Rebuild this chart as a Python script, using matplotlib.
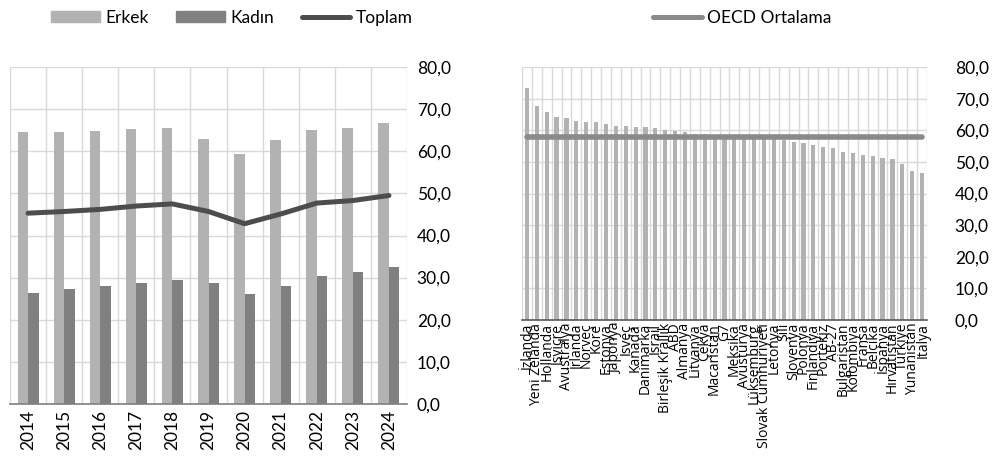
import numpy as np
import matplotlib
matplotlib.use("Agg")
import matplotlib.pyplot as plt
from matplotlib.lines import Line2D
from matplotlib.patches import Patch
from matplotlib.ticker import FuncFormatter, FixedLocator

plt.rcParams['font.family'] = ['Lato', 'DejaVu Sans']

# === DATA ===
years = ['2014', '2015', '2016', '2017', '2018', '2019', '2020', '2021', '2022', '2023', '2024']
erkek = [64.5, 64.6, 64.8, 65.3, 65.5, 62.9, 59.4, 62.7, 65.0, 65.6, 66.8]
kadin = [26.4, 27.3, 27.9, 28.8, 29.5, 28.7, 26.2, 28.0, 30.5, 31.3, 32.5]
toplam = [45.3, 45.7, 46.2, 47.0, 47.5, 45.7, 42.8, 45.1, 47.7, 48.3, 49.5]

countries = ['İzlanda', 'Yeni Zelanda', 'Hollanda', 'İsviçre', 'Avustralya', 'İrlanda',
             'Norveç', 'Kore', 'Estonya', 'Japonya', 'İsveç', 'Kanada', 'Danimarka',
             'İsrail', 'Birleşik Krallık', 'ABD', 'Almanya', 'Litvanya', 'Çekya',
             'Macaristan', 'G7', 'Meksika', 'Avusturya', 'Lüksemburg',
             'Slovak Cumhuriyeti', 'Letonya', 'Şili', 'Slovenya', 'Polonya',
             'Finlandiya', 'Portekiz', 'AB-27', 'Bulgaristan', 'Kolombiya', 'Fransa',
             'Belçika', 'İspanya', 'Hırvatistan', 'Türkiye', 'Yunanistan', 'İtalya']
country_vals = [73.3, 67.8, 65.9, 64.3, 63.9, 62.8, 62.7, 62.5, 61.9, 61.4, 61.4, 61.0,
                61.0, 60.6, 60.2, 59.9, 59.4, 58.9, 58.8, 58.3, 58.1, 58.0, 57.9, 57.8,
                57.7, 57.5, 56.9, 56.3, 56.1, 55.3, 54.7, 54.4, 53.0, 52.7, 52.1, 51.8,
                51.1, 50.9, 49.3, 47.2, 46.4]
oecd_avg = 57.8

# === STYLE ===
c_erkek = '#b2b2b2'
c_kadin = '#808080'
c_toplam = '#4d4d4d'
c_oecd = '#8a8a8a'
c_grid = '#d9d9d9'
fmt = FuncFormatter(lambda v, p: f"{v:.1f}".replace('.', ','))

W, H = 992, 467
fig = plt.figure(figsize=(W / 100, H / 100), dpi=100)


def style_axes(ax, n, pad):
    ax.set_xlim(-0.5, n - 0.5)
    ax.set_ylim(0, 80)
    ax.set_yticks(np.arange(0, 81, 10))
    ax.yaxis.set_major_formatter(fmt)
    ax.yaxis.tick_right()
    ax.tick_params(axis='y', length=0, pad=pad, labelsize=12.5, colors='#000000')
    ax.xaxis.set_minor_locator(FixedLocator(np.arange(-0.5, n, 1.0)))
    ax.tick_params(axis='x', which='both', length=0)
    ax.grid(axis='y', color=c_grid, linewidth=1)
    ax.grid(axis='x', which='minor', color=c_grid, linewidth=1)
    ax.set_axisbelow(True)
    for s in ['left', 'right', 'top']:
        ax.spines[s].set_visible(False)
    ax.spines['bottom'].set_color('#7f7f7f')
    ax.spines['bottom'].set_linewidth(1.2)


# --- left chart ---
ax1 = fig.add_axes([10 / W, 1 - 404 / H, 397 / W, 337 / H])
x = np.arange(len(years))
bw = 0.29
ax1.bar(x - bw / 2, erkek, bw, color=c_erkek, zorder=2)
ax1.bar(x + bw / 2, kadin, bw, color=c_kadin, zorder=2)
ax1.plot(x, toplam, color=c_toplam, linewidth=3.6, solid_capstyle='round',
         solid_joinstyle='round', zorder=3)
style_axes(ax1, len(years), 7)
ax1.set_xticks(x)
ax1.set_xticklabels(years, rotation=90, fontsize=12.5)
ax1.tick_params(axis='x', pad=4)

handles1 = [Patch(color=c_erkek, label='Erkek'),
            Patch(color=c_kadin, label='Kadın'),
            Line2D([], [], color=c_toplam, linewidth=3.6, solid_capstyle='round', label='Toplam')]
fig.legend(handles=handles1, loc='center', bbox_to_anchor=(232 / W, 1 - 18 / H), ncol=3,
           frameon=False, fontsize=12.5, handlelength=2.8, handleheight=0.6,
           handletextpad=0.3, columnspacing=1.6)

# --- right chart ---
ax2 = fig.add_axes([522 / W, 1 - 320 / H, 405 / W, 253 / H])
xc = np.arange(len(countries))
ax2.bar(xc, country_vals, 0.42, color=c_erkek, zorder=2)
ax2.plot(xc, [oecd_avg] * len(countries), color=c_oecd, linewidth=4,
         solid_capstyle='round', zorder=3)
style_axes(ax2, len(countries), 20)
ax2.spines['bottom'].set_color('#595959')
ax2.set_xticks(xc)
ax2.set_xticklabels(countries, rotation=90, fontsize=10, family=['Open Sans', 'DejaVu Sans'])
ax2.tick_params(axis='x', pad=2)

handles2 = [Line2D([], [], color=c_oecd, linewidth=3.6, solid_capstyle='round',
                   label='OECD Ortalama')]
fig.legend(handles=handles2, loc='center', bbox_to_anchor=(742 / W, 1 - 18 / H),
           frameon=False, fontsize=12.5, handlelength=2.8, handletextpad=0.3)

fig.savefig('out.png', dpi=100)
